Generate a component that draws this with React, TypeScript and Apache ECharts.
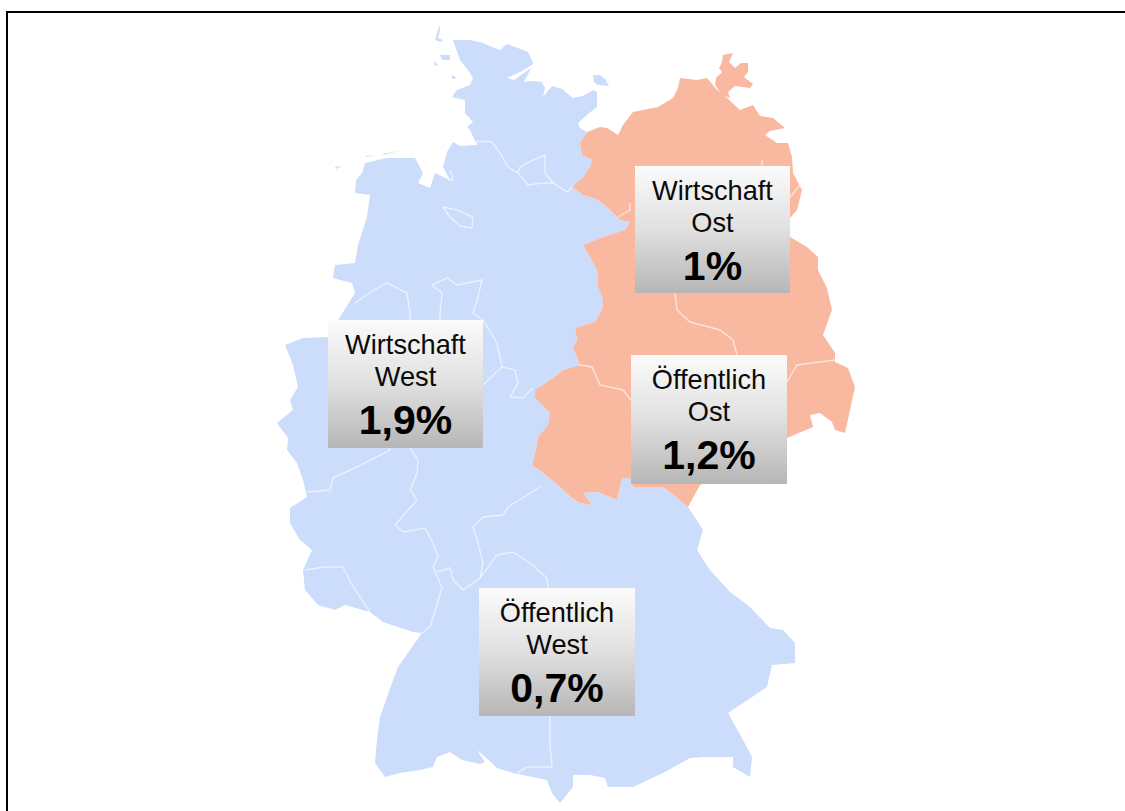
import React, { useEffect, useRef } from "react";
import * as echarts from "echarts";

type Pt = number[];

// ---- texts of the four boxes
const boxTitles = ["Wirtschaft", "Öffentlich", "Wirtschaft", "Öffentlich"];
const boxRegions = ["Ost", "Ost", "West", "West"];
const boxValues = ["1%", "1,2%", "1,9%", "0,7%"];

// ---- map geometry (outline of Germany, in the picture's own units)
const northCoastWest: Pt[] = [
  [453,40],[470,40],[483,43],[492,47],[500,50],[507,44],[518,48],[528,52],[532,60],[533,64],[522,71],[507,78],[514,80],[524,73],[531,68],[524,82],[533,81],[542,82],[545,88],[543,97],[547,92],[552,86],[562,89],[573,98],[583,96],[593,90],[597,92],[597,107],[588,114],[578,123],[580,128],[587,132],
];
const sharedBorder: Pt[] = [
  [587,132],[580,143],[582,155],[592,160],[590,167],[583,177],[572,187],[583,195],[596,199],[607,207],[620,220],[630,222],[625,230],[603,237],[583,245],[590,257],[597,270],[598,287],[603,300],[602,310],[595,322],[575,328],[577,340],[573,348],[580,365],[563,370],[553,378],[535,390],[535,398],[550,413],[548,425],[538,437],[536,450],[532,465],[542,472],[560,487],[572,498],[580,503],[592,505],[583,493],[598,492],[617,500],[622,478],[630,478],[633,487],[663,487],[675,496],[688,507],
];
const bavariaAndSouth: Pt[] = [
  [703,530],[697,550],[710,570],[730,592],[750,607],[770,628],[783,630],[795,643],[795,663],[772,665],[767,687],[728,713],[743,740],[752,757],[750,777],[733,767],[733,757],[703,757],[690,758],[663,773],[633,787],[608,787],[605,778],[590,775],[573,775],[573,787],[560,803],[552,793],[547,780],[513,773],[497,768],[493,764],[477,750],[485,762],[480,764],[462,760],[450,752],[437,757],[433,767],[420,770],[400,773],[385,777],[375,763],
];
const westBorderAndCoast: Pt[] = [
  [377,740],[380,717],[392,683],[398,667],[422,633],[413,632],[383,622],[370,612],[345,605],[335,610],[318,605],[305,590],[303,570],[312,550],[300,540],[290,523],[290,508],[307,497],[303,480],[297,463],[287,450],[288,438],[277,423],[293,410],[290,400],[298,387],[293,365],[285,345],[303,338],[328,337],[340,317],[355,293],[352,283],[333,278],[335,265],[355,263],[358,245],[367,217],[370,195],[355,193],[356,180],[362,173],[365,163],[387,158],[415,158],[423,173],[418,183],[430,188],[435,173],[450,180],[443,167],[447,152],[453,142],[460,146],[477,145],[470,130],[467,127],[473,122],[465,113],[465,100],[452,97],[457,90],[470,85],[473,78],[468,70],[460,60],
];
const fehmarn: Pt[] = [[593,75],[600,75],[606,80],[609,86],[598,85],[594,82]];
const sylt: Pt[] = [[440,25],[438,30],[435,40],[441,42],[443,40],[438,38],[440,30]];
const foehr: Pt[] = [[440,55],[450,55],[450,60],[442,60]];
const amrum: Pt[] = [[435,61],[438,66],[434,65]];
const pellworm: Pt[] = [[452,75],[457,78],[452,79]];
const frisian1: Pt[] = [[335,167],[342,166],[336,169]];
const frisian2: Pt[] = [[365,156],[377,155],[366,157]];
const frisian3: Pt[] = [[383,154],[402,150],[384,155]];

const eastCoastAndBorder: Pt[] = [
  [688,507],[700,485],[787,438],[813,427],[810,415],[820,413],[832,422],[835,430],[845,433],[855,387],[848,368],[835,362],[835,353],[823,335],[832,310],[827,288],[818,270],[818,257],[807,247],[790,237],[790,218],[797,210],[802,190],[793,173],[792,157],[788,143],[777,143],[765,135],[770,131],[785,128],[773,118],[760,116],[753,105],[740,110],[727,98],[717,90],[713,85],[707,78],[697,80],[680,78],[678,88],[673,98],[658,107],[633,112],[623,125],[618,135],[607,128],[600,127],
];
const ruegen: Pt[] = [[723,55],[733,53],[729,62],[735,68],[741,63],[748,63],[748,72],[744,77],[753,84],[750,88],[735,86],[728,92],[730,98],[722,95],[715,85],[716,78],[722,72],[719,68],[722,62]];

// ---- inner state borders
const stateBorders: Pt[][] = [
  [[477,141],[492,142],[500,153],[508,167],[518,173],[528,185],[543,183],[553,183],[567,192],[572,187]],
  [[518,173],[520,167],[533,160],[545,155],[545,173],[553,183]],
  [[443,207],[457,210],[473,217],[472,228],[460,226],[450,217],[443,207]],
  [[450,170],[453,180],[448,180]],
  [[355,303],[372,291],[387,283],[407,293],[410,313],[410,320]],
  [[440,320],[440,313],[442,293],[432,285],[447,278],[457,285],[482,280],[478,297],[473,313],[483,320]],
  [[483,320],[497,343],[502,367],[515,370],[518,383],[510,397],[523,398],[533,388]],
  [[483,385],[502,367]],
  [[307,492],[330,490],[333,478],[357,467],[390,450],[390,448]],
  [[410,448],[418,460],[417,473],[410,490],[417,500],[395,525],[403,532],[425,528],[433,543],[438,557],[433,567],[442,588],[430,627],[422,633]],
  [[540,487],[508,507],[503,515],[483,517],[473,527],[478,543],[483,563],[480,578],[463,590],[453,580],[450,568],[437,572]],
  [[480,578],[497,555],[513,552],[530,563],[547,578],[548,588]],
  [[550,716],[550,747],[552,767],[527,767],[517,773]],
  [[305,570],[325,567],[343,567],[352,585],[370,612]],
  [[630,203],[630,210],[618,217]],
  [[802,183],[790,197]],
  [[762,160],[762,166]],
  [[675,293],[677,310],[690,322],[720,330],[733,340],[737,355]],
  [[787,382],[797,365],[835,360]],
  [[580,365],[592,367],[600,385],[623,390],[631,400]],
  [[477,141],[477,145]],
];

// ---- layout of the four boxes (left, top, width, height)
const boxRects = [
  [635, 166, 155, 127],
  [631, 355, 156, 129],
  [328, 320, 155, 128],
  [479, 588, 156, 128],
];

const westRing = [...northCoastWest, ...sharedBorder, ...bavariaAndSouth, ...westBorderAndCoast, northCoastWest[0]];
const eastRing = [...[...sharedBorder].reverse(), ...[...eastCoastAndBorder].reverse()];
const closed = (r: Pt[]) => [...r, r[0]];

const geoJson = {
  type: "FeatureCollection",
  features: [
    {
      type: "Feature",
      properties: { name: "West" },
      geometry: {
        type: "MultiPolygon",
        coordinates: [westRing, fehmarn, sylt, foehr, amrum, pellworm, frisian1, frisian2, frisian3].map((r, i) => [i === 0 ? r : closed(r)]),
      },
    },
    {
      type: "Feature",
      properties: { name: "Ost" },
      geometry: {
        type: "MultiPolygon",
        coordinates: [closed(eastRing), closed(ruegen)].map((r) => [r]),
      },
    },
  ],
};

const FONT = '"Liberation Sans", Arial, sans-serif';

export default function App() {
  const ref = useRef<HTMLDivElement>(null);
  useEffect(() => {
    if (!ref.current) return;
    echarts.registerMap("deutschland", geoJson as any);
    const chart = echarts.init(ref.current, null, { renderer: "svg" });

    const boxes = boxRects.map(([x, y, w, h], i) => ({
      type: "group",
      x,
      y,
      children: [
        {
          type: "rect",
          z: 50,
          shape: { x: 0, y: 0, width: w, height: h },
          style: {
            fill: new echarts.graphic.LinearGradient(0, 0, 0, 1, [
              { offset: 0, color: "#fbfbfb" },
              { offset: 0.5, color: "#e0e0e0" },
              { offset: 1, color: "#b6b6b6" },
            ]),
          },
        },
        {
          type: "text",
          z: 51,
          style: { text: boxTitles[i], x: w / 2, y: 24, fill: "#0a0a0a", font: `27.2px ${FONT}`, align: "center", verticalAlign: "middle" },
        },
        {
          type: "text",
          z: 51,
          style: { text: boxRegions[i], x: w / 2, y: 56, fill: "#0a0a0a", font: `27.2px ${FONT}`, align: "center", verticalAlign: "middle" },
        },
        {
          type: "text",
          z: 51,
          style: { text: boxValues[i], x: w / 2, y: 100, fill: "#000", font: `bold 41px ${FONT}`, align: "center", verticalAlign: "middle" },
        },
      ],
    }));

    chart.setOption({
      animation: false,
      backgroundColor: "#ffffff",
      geo: {
        map: "deutschland",
        projection: { project: (p: number[]) => p, unproject: (p: number[]) => p },
        boundingCoords: [[0, 0], [1125, 811]],
        left: 0,
        top: 0,
        width: 1125,
        height: 811,
        aspectScale: 1,
        roam: false,
        silent: true,
        label: { show: false },
        itemStyle: { areaColor: "#ccdcfb", borderWidth: 0, borderColor: "transparent" },
        regions: [
          { name: "West", itemStyle: { areaColor: "#ccdcfb", borderWidth: 0 } },
          { name: "Ost", itemStyle: { areaColor: "#f9b9a0", borderWidth: 0 } },
        ],
      },
      series: [
        {
          type: "lines",
          coordinateSystem: "geo",
          polyline: true,
          silent: true,
          z: 5,
          lineStyle: { color: "#ffffff", width: 1.4, opacity: 0.6, curveness: 0 },
          data: stateBorders.map((coords) => ({ coords })),
        },
      ],
      graphic: [
        { type: "line", z: 60, shape: { x1: 6, y1: 12, x2: 1125, y2: 12 }, style: { stroke: "#000", lineWidth: 2 } },
        { type: "line", z: 60, shape: { x1: 7, y1: 11, x2: 7, y2: 811 }, style: { stroke: "#000", lineWidth: 2 } },
        ...boxes,
      ],
    });
    return () => chart.dispose();
  }, []);
  return <div ref={ref} style={{ position: "absolute", left: 0, top: 0, width: 1125, height: 811 }} />;
}
